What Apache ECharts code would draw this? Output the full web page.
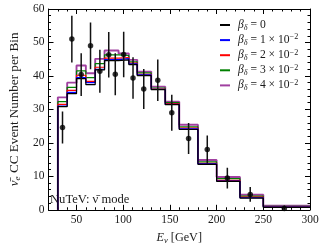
<!DOCTYPE html>
<html><head><meta charset="utf-8">
<script src="https://cdn.jsdelivr.net/npm/echarts@6/dist/echarts.min.js"></script>
<style>html,body{margin:0;padding:0;background:#fff}#c{width:325px;height:250px}</style>
</head><body><div id="c"></div>
<script>
// ---- data ----
const binEdges = [30,40,50,60,70,80,95,106,115,130,145,160,180,200,225,250,300];
const predBeta0 = [30.8,34.7,39.2,37.4,41.8,44.6,44.8,43.4,40.1,35.9,31.4,24.0,13.6,8.5,3.5,0.7];
const predBeta1 = [31.0,35.1,39.5,38.0,42.0,44.9,45.2,43.6,40.3,36.0,31.5,24.2,13.7,8.6,3.6,0.8];
const predBeta2 = [31.5,35.7,40.2,38.4,42.6,45.3,45.5,43.8,40.5,36.1,31.7,24.4,13.9,8.8,3.8,0.9];
const predBeta3 = [32.3,36.6,41.5,39.5,43.7,46.3,46.1,44.2,40.9,36.4,32.0,24.8,14.3,9.3,4.1,1.0];
const predBeta4 = [33.6,38.0,43.1,40.8,45.1,47.6,46.7,44.8,41.3,36.8,32.3,25.4,14.9,9.8,4.5,1.2];
const betaExponents = [null,1,2,3,4];   // beta = k x 10^-2
const dataEnergy = [35,45,55,65,75,84.5,91.5,100.5,110.5,122,137,152,170,190,211.5,236,272.5];
const dataCounts = [24.6,51.0,40.4,49.0,41.4,46.3,40.5,46.4,39.4,36.1,38.7,29.0,21.3,18.0,9.5,4.6,0.4];
const dataErrors = [4.8,7.0,6.4,7.0,6.4,6.8,6.3,6.8,6.2,6.0,6.2,5.4,4.6,4.2,3.1,2.2,0.9];
const xMajorTicks = [50,100,150,200,250,300];
const yTicks = [0,10,20,30,40,50,60];

// ---- styling ----
const F = "'Liberation Serif','DejaVu Serif',serif";
const TC = '#1a1a1a';
const colors = ['#000000','#0000ff','#ff0000','#008000','rgba(128,0,128,0.75)'];
const widths = [1.2,1.2,1.2,1.2,1.9];
const preds = [predBeta0,predBeta1,predBeta2,predBeta3,predBeta4];

function stepData(vals){
  const d=[[binEdges[0],0]];
  vals.forEach((v,i)=>d.push([binEdges[i],v]));
  d.push([binEdges[binEdges.length-1], vals[vals.length-1]]);
  return d;
}
function mkRich(fs){
  return {
    n:{fontFamily:F,fontSize:fs,color:TC,lineHeight:fs+2},
    i:{fontFamily:F,fontSize:fs,fontStyle:'italic',color:TC,lineHeight:fs+2},
    sub:{fontFamily:F,fontSize:fs*0.7,fontStyle:'italic',color:TC,lineHeight:fs*0.7,verticalAlign:'bottom'},
    sup:{fontFamily:F,fontSize:fs*0.7,color:TC,lineHeight:fs*0.7,verticalAlign:'top'}
  };
}
const names = betaExponents.map(k=> k===null ? 'b=0' : 'b='+k);
function legendFmt(name){
  const k = betaExponents[names.indexOf(name)];
  if(k===null) return '{i|β}{sub|δ}{n| = 0}';
  return '{i|β}{sub|δ}{n| = '+k+' × 10}{sup|−2}';
}

const histSeries = [4,3,2,1,0].map(j=>({
  name:names[j], type:'line', step:'end', data:stepData(preds[j]),
  symbol:'none', lineStyle:{color:colors[j],width:widths[j]}, itemStyle:{color:colors[j]},
  z:3+(4-j), animation:false, clip:true
}));

const valueAxisCommon = {type:'value', min:20, max:300, interval:10, splitLine:{show:false}};
const option = {
  animation:false,
  grid:{left:32,right:15,top:9,bottom:34},
  legend:{
    data:names, orient:'vertical', left:215, top:14, itemGap:1.5,
    itemWidth:10, itemHeight:2, icon:'rect',
    itemStyle:{borderWidth:0},
    formatter:legendFmt, textStyle:{rich:mkRich(11.6), padding:[0,0,0,3]}
  },
  xAxis:[
    Object.assign({},valueAxisCommon,{position:'bottom',
      name:'{i|E}{sub|ν}{n| [GeV]}', nameLocation:'middle', nameGap:21,
      nameTextStyle:{rich:mkRich(12.2)},
      axisLine:{show:true,lineStyle:{color:'#000',width:1}},
      axisTick:{inside:true,length:2.5,lineStyle:{color:'#000'}},
      axisLabel:{margin:4,fontFamily:F,fontSize:11.5,color:TC,
        formatter:v=> xMajorTicks.indexOf(v)>=0 ? String(v) : ''}}),
    Object.assign({},valueAxisCommon,{position:'bottom',
      axisLine:{show:false}, axisLabel:{show:false},
      axisTick:{inside:true,length:5,customValues:xMajorTicks,lineStyle:{color:'#000'}}}),
    Object.assign({},valueAxisCommon,{position:'top',
      axisLine:{show:true,lineStyle:{color:'#000',width:1}}, axisLabel:{show:false},
      axisTick:{inside:true,length:2.5,lineStyle:{color:'#000'}}}),
    Object.assign({},valueAxisCommon,{position:'top',
      axisLine:{show:false}, axisLabel:{show:false},
      axisTick:{inside:true,length:5,customValues:xMajorTicks,lineStyle:{color:'#000'}}})
  ],
  yAxis:[
    {type:'value',min:yTicks[0],max:yTicks[yTicks.length-1],interval:10,position:'left',
      name:'{i|ν̄}{sub|e}{n| CC Event Number per Bin}', nameLocation:'middle', nameGap:19,
      nameTextStyle:{rich:mkRich(13.2)},
      splitLine:{show:false},
      axisLine:{show:true,lineStyle:{color:'#000',width:1}},
      axisTick:{inside:true,length:5,lineStyle:{color:'#000'}},
      minorTick:{show:true,splitNumber:5,length:2.5,lineStyle:{color:'#000'}},
      axisLabel:{margin:4,fontFamily:F,fontSize:11.5,color:TC}},
    {type:'value',min:yTicks[0],max:yTicks[yTicks.length-1],interval:10,position:'right',
      splitLine:{show:false},
      axisLine:{show:true,lineStyle:{color:'#000',width:1}},
      axisTick:{inside:true,length:5,lineStyle:{color:'#000'}},
      minorTick:{show:true,splitNumber:5,length:2.5,lineStyle:{color:'#000'}},
      axisLabel:{show:false}}
  ],
  graphic:[{type:'text', left:50, top:193, style:{text:'NuTeV: ν̄ mode', font:'12.6px '+F, fill:TC}}],
  series: histSeries.concat([
    {type:'custom', name:'err', z:10, clip:true,
      data:dataEnergy.map((e,i)=>[e,dataCounts[i],dataErrors[i]]),
      renderItem:(params,api)=>{
        const x=api.value(0), y=api.value(1), e=api.value(2);
        const p1=api.coord([x,Math.max(0,y-e)]), p2=api.coord([x,y+e]);
        return {type:'line', shape:{x1:p1[0],y1:p1[1],x2:p2[0],y2:p2[1]},
          style:{stroke:'#111',lineWidth:1.5}};
      }},
    {type:'scatter', name:'data', z:11, symbolSize:5.5, itemStyle:{color:'#000'},
      data:dataEnergy.map((e,i)=>[e,dataCounts[i]])}
  ])
};
const chart = echarts.init(document.getElementById('c'),null,{renderer:'canvas'});
chart.setOption(option);
</script></body></html>
